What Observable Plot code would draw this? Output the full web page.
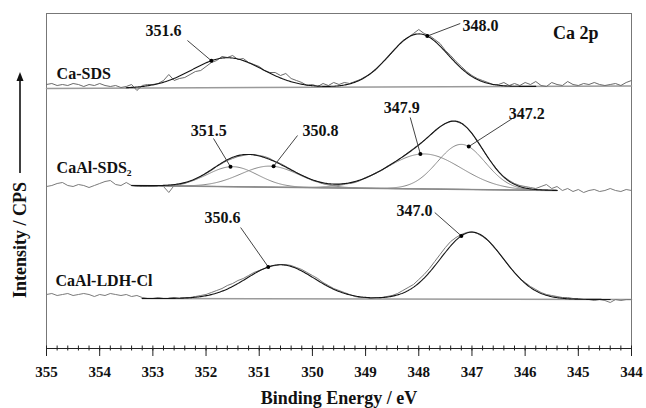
<!DOCTYPE html>
<html>
<head>
<meta charset="utf-8">
<script src="https://cdn.jsdelivr.net/npm/d3@7"></script>
<script src="https://cdn.jsdelivr.net/npm/@observablehq/plot@0.6"></script>
<style>
  html, body { margin: 0; padding: 0; background: #fff; }
</style>
</head>
<body>
<div id="chart"></div>
<script>
// Binding-energy grid of the scans: 355.0 -> 344.0 eV, 0.1 eV steps
const energies = d3.range(111).map(i => Math.round((355 - i * 0.1) * 10) / 10);

// Ca 2p counts, stacked with an offset per sample (arbitrary units)
const caSDS = [
  264,265,263,264,263,265,264,262,264,263,
  265,263,262,263,261,262,264,258,263,264,
  264,265,268,274,268,270,271,274,277,278,
  282,286,288,292,291,293,289,290,286,284,
  282,278,276,276,273,275,270,268,266,263,
  264,262,265,263,266,264,266,265,267,269,
  272,275,279,285,290,296,302,308,311,315,
  319,315,313,309,305,298,293,287,282,277,
  273,270,268,266,264,264,266,263,265,263,
  266,264,267,263,262,266,264,263,267,264,
  263,265,264,266,264,263,264,265,263,266,
  268
];
const caAlSDS2 = [
  162,163,165,166,163,162,164,163,161,163,
  165,167,168,164,163,166,163,162,162,162,
  162,163,162,156,163,164,165,167,169,172,
  175,178,182,185,188,190,192,193,194,194,
  193,192,190,187,185,182,179,176,173,171,
  168,167,165,164,163,164,165,165,166,168,
  171,173,176,178,182,185,188,192,196,200,
  204,208,213,218,222,225,227,227,225,221,
  215,207,199,191,184,177,172,168,165,163,
  162,161,160,162,164,160,162,158,160,157,
  159,156,158,159,157,158,160,158,157,159,
  158
];
const caAlLDHCl = [
  54,55,53,54,55,53,54,55,54,52,
  54,53,55,54,53,54,52,53,51,50,
  50,51,50,50,51,50,51,51,52,53,
  54,56,58,60,63,65,68,70,73,76,
  78,80,82,83,84,84,83,81,79,76,
  73,70,66,63,60,58,56,54,52,51,
  51,50,51,51,52,53,55,58,61,64,
  69,74,80,87,94,101,107,111,114,116,
  117,115,112,108,102,96,89,82,76,70,
  66,62,59,56,54,53,52,51,51,50,
  50,49,49,48,49,48,46,49,48,49,
  49
];

// Fitted components: centre (eV), height, Gaussian sigma (eV)
const caSDSCentres = [351.6, 348.0];
const caSDSHeights = [30, 53];
const caSDSSigmas = [0.66, 0.55];

const caAlSDS2Centres = [351.5, 350.8, 347.9, 347.2];
const caAlSDS2Heights = [20, 21, 35, 45];
const caAlSDS2Sigmas = [0.47, 0.55, 0.70, 0.45];

const caAlLDHClCentres = [350.6, 347.0];
const caAlLDHClHeights = [34, 67];
const caAlLDHClSigmas = [0.63, 0.59];

// Linear backgrounds: [eV, counts] end points
const caSDSBackground = [[355.0, 260], [344.0, 262.5]];
const caAlSDS2Background = [[353.4, 163], [345.4, 158]];
const caAlLDHClBackground = [[353.2, 50], [344.0, 49]];

const sampleNames = ["Ca-SDS", "CaAl-SDS\u2082", "CaAl-LDH-Cl"];
const majorTicks = [355, 354, 353, 352, 351, 350, 349, 348, 347, 346, 345, 344];

// ---- fit model helpers ----
function fitModel(background, centres, heights, sigmas) {
  const [[e0, b0], [e1, b1]] = background;
  const base = e => b0 + (b1 - b0) * (e - e0) / (e1 - e0);
  const peak = (i, e) => heights[i] * Math.exp(-((e - centres[i]) ** 2) / (2 * sigmas[i] ** 2));
  return {
    base,
    component: (i, e) => base(e) + peak(i, e),
    envelope: e => base(e) + d3.sum(centres, (_, i) => peak(i, e))
  };
}
function sampleCurve(from, to, f) {
  const n = 400;
  return d3.range(n + 1).map(k => {
    const e = from + (to - from) * k / n;
    return {e, v: f(e)};
  });
}
const rows = values => energies.map((e, i) => ({e, v: values[i]}));

const fitCaSDS = fitModel(caSDSBackground, caSDSCentres, caSDSHeights, caSDSSigmas);
const fitCaAlSDS2 = fitModel(caAlSDS2Background, caAlSDS2Centres, caAlSDS2Heights, caAlSDS2Sigmas);
const fitCaAlLDHCl = fitModel(caAlLDHClBackground, caAlLDHClCentres, caAlLDHClHeights, caAlLDHClSigmas);

// Peak call-outs: arrow tip sits on the curve a little off the labelled centre
const callouts = [
  {peak: caSDSCentres[0], curve: fitCaSDS.envelope, tipShift: 0.3, from: [352.35, 308], at: [352.80, 318]},
  {peak: caSDSCentres[1], curve: fitCaSDS.envelope, tipShift: -0.16, from: [347.22, 325], at: [346.84, 323]},
  {peak: caAlSDS2Centres[0], curve: e => fitCaAlSDS2.component(0, e), tipShift: 0.04, from: [351.86, 210], at: [351.95, 218]},
  {peak: caAlSDS2Centres[1], curve: e => fitCaAlSDS2.component(1, e), tipShift: -0.07, from: [350.28, 213], at: [349.85, 218]},
  {peak: caAlSDS2Centres[2], curve: e => fitCaAlSDS2.component(2, e), tipShift: 0.07, from: [348.16, 231], at: [348.32, 241]},
  {peak: caAlSDS2Centres[3], curve: e => fitCaAlSDS2.component(3, e), tipShift: -0.14, from: [346.24, 230], at: [345.97, 235]},
  {peak: caAlLDHClCentres[0], curve: fitCaAlLDHCl.envelope, tipShift: 0.23, from: [351.35, 121], at: [351.69, 131]},
  {peak: caAlLDHClCentres[1], curve: fitCaAlLDHCl.envelope, tipShift: 0.2, from: [347.70, 136], at: [348.08, 138]}
].map(c => {
  const tipE = c.peak + c.tipShift;
  return {label: c.peak.toFixed(1), x1: c.from[0], y1: c.from[1], x2: tipE, y2: c.curve(tipE), tx: c.at[0], ty: c.at[1]};
});

const nameLabels = [
  {text: sampleNames[0], e: 354.81, v: 275},
  {text: sampleNames[1], e: 354.81, v: 181},
  {text: sampleNames[2], e: 354.83, v: 68}
];

const minorTicks = d3.range(56).map(i => 344 + i * 0.2);

const serif = "'Liberation Serif', 'Times New Roman', serif";

const components = caAlSDS2Centres.map((c, i) =>
  sampleCurve(caAlSDS2Background[0][0], caAlSDS2Background[1][0], e => fitCaAlSDS2.component(i, e)));

const chart = Plot.plot({
  width: 646,
  height: 408,
  marginLeft: 46,
  marginRight: 15,
  marginTop: 13,
  marginBottom: 60,
  style: {fontFamily: serif, fontWeight: "bold", fontSize: "15px", color: "#111", background: "#fff"},
  x: {domain: [355, 344]},
  y: {domain: [0, 335], axis: null},
  marks: [
    Plot.frame({stroke: "#777", strokeWidth: 1}),
    // backgrounds
    Plot.line(caSDSBackground, {x: d => d[0], y: d => d[1], stroke: "#9a9a9a", strokeWidth: 1.5}),
    Plot.line(caAlSDS2Background, {x: d => d[0], y: d => d[1], stroke: "#9a9a9a", strokeWidth: 1.5}),
    Plot.line(caAlLDHClBackground, {x: d => d[0], y: d => d[1], stroke: "#9a9a9a", strokeWidth: 1.5}),
    // measured spectra
    Plot.line(rows(caSDS), {x: "e", y: "v", stroke: "#6a6a6a", strokeWidth: 1}),
    Plot.line(rows(caAlSDS2), {x: "e", y: "v", stroke: "#7a7a7a", strokeWidth: 1}),
    Plot.line(rows(caAlLDHCl), {x: "e", y: "v", stroke: "#7a7a7a", strokeWidth: 1}),
    // fitted components
    ...components.map(c => Plot.line(c, {x: "e", y: "v", stroke: "#8a8a8a", strokeWidth: 1})),
    // fitted envelopes
    Plot.line(sampleCurve(353.5, 345.8, fitCaSDS.envelope), {x: "e", y: "v", stroke: "#151515", strokeWidth: 1.1}),
    Plot.line(sampleCurve(353.4, 345.4, fitCaAlSDS2.envelope), {x: "e", y: "v", stroke: "#151515", strokeWidth: 1.1}),
    Plot.line(sampleCurve(353.2, 344.4, fitCaAlLDHCl.envelope), {x: "e", y: "v", stroke: "#151515", strokeWidth: 1.1}),
    // call-outs
    Plot.link(callouts, {x1: "x1", y1: "y1", x2: "x2", y2: "y2", stroke: "#444", strokeWidth: 1}),
    Plot.dot(callouts, {x: "x2", y: "y2", r: 2, fill: "#000", stroke: null}),
    Plot.text(callouts, {x: "tx", y: "ty", text: "label", fontSize: 16, fill: "#111"}),
    // sample names and panel title
    Plot.text(nameLabels, {x: "e", y: "v", text: "text", textAnchor: "start", fontSize: 16, fill: "#111"}),
    Plot.text(["Ca 2p"], {x: 345.05, y: 315, fontSize: 18, fill: "#111"}),
    // x axis
    Plot.ruleY([0], {stroke: "#222", strokeWidth: 1.2}),
    Plot.ruleX(minorTicks, {x: d => d, y1: -2.5, y2: 2.5, stroke: "#222", strokeWidth: 1}),
    Plot.axisX({ticks: majorTicks, tickSize: 8, tickPadding: 10, tickFormat: d => String(d), fontSize: 15, label: null, stroke: "#222"}),
    Plot.text(["Binding Energy / eV"], {frameAnchor: "bottom", lineAnchor: "middle", dy: 50, fontSize: 18, fill: "#111"}),
    // y axis title
    Plot.text(["Intensity / CPS"], {frameAnchor: "left", textAnchor: "middle", lineAnchor: "middle", dx: -26, dy: 59, rotate: -90, fontSize: 18, fill: "#111"})
  ]
});

// upward arrow beside the intensity title
const svg = d3.select(chart);
svg.append("line")
  .attr("x1", 20).attr("x2", 20).attr("y1", 173).attr("y2", 80)
  .attr("stroke", "#111").attr("stroke-width", 1.6);
svg.append("path")
  .attr("d", "M20,72 L16.5,81 L23.5,81 Z")
  .attr("fill", "#111");

document.getElementById("chart").appendChild(chart);
</script>
</body>
</html>
